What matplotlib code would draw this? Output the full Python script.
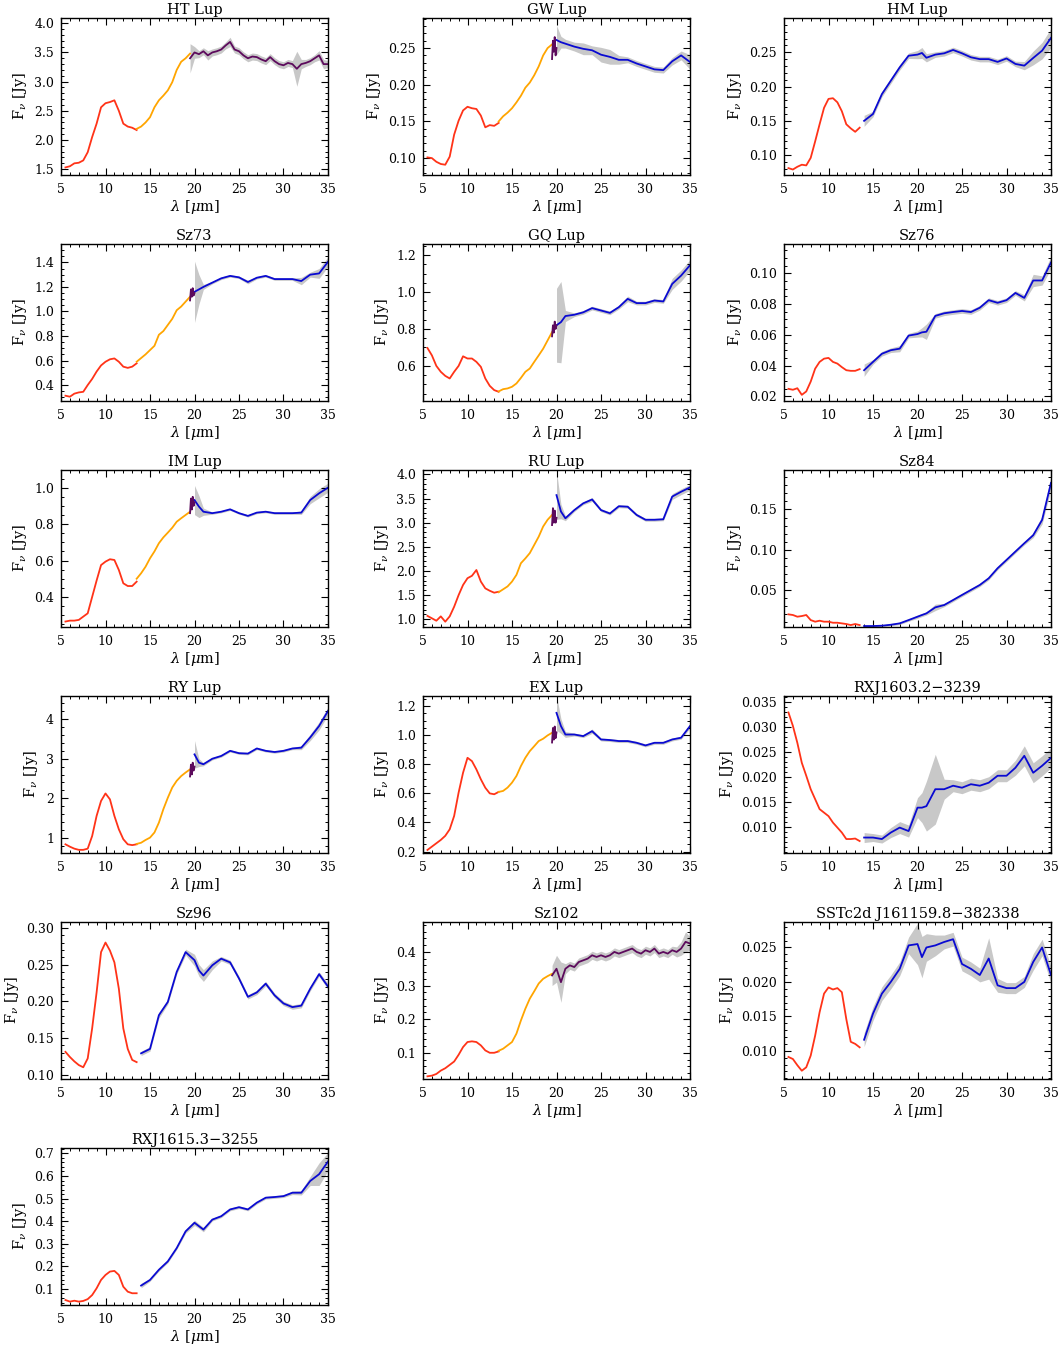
import matplotlib
matplotlib.use("Agg")
import matplotlib.pyplot as plt
from matplotlib.ticker import FixedLocator, FormatStrFormatter, MultipleLocator, AutoMinorLocator

plt.rcParams['font.family'] = ['DejaVu Serif']
plt.rcParams['mathtext.fontset'] = 'dejavuserif'

# wavelength grids (micron) of the spectral modules
wl_sl = [5.5, 6.0, 6.5, 7.0, 7.5, 8.0, 8.5, 9.0, 9.5, 10.0, 10.5, 11.0, 11.5, 12.0, 12.5, 13.0, 13.5]
wl_ll2 = [13.5, 14.0, 14.5, 15.0, 15.5, 16.0, 16.5, 17.0, 17.5, 18.0, 18.5, 19.0, 19.5]
wl_ll = [14, 15, 16, 17, 18, 19, 20, 20.5, 21, 22, 23, 24, 25, 26, 27, 28, 29, 30, 31, 32, 33, 34, 35]
wl_ll1 = [20, 20.5, 21, 22, 23, 24, 25, 26, 27, 28, 29, 30, 31, 32, 33, 34, 35]
wl_sh_short = [19.5, 19.6, 19.7, 19.8, 19.9, 20.0]
wl_sh = [19.5, 20, 20.5, 21, 21.5, 22, 22.5, 23, 23.5, 24, 24.5, 25, 25.5, 26, 26.5, 27, 27.5,
         28, 28.5, 29, 29.5, 30, 30.5, 31, 31.5, 32, 32.5, 33, 33.5, 34, 34.5, 35]

# HT Lup
htlup_red = [1.53, 1.55, 1.60, 1.61, 1.65, 1.79, 2.05, 2.28, 2.56, 2.63, 2.65, 2.68, 2.50, 2.28, 2.23, 2.21, 2.17]
htlup_orange = [2.19, 2.23, 2.30, 2.39, 2.56, 2.68, 2.76, 2.85, 2.99, 3.20, 3.34, 3.40, 3.48]
htlup_purple = [3.40, 3.50, 3.47, 3.52, 3.45, 3.50, 3.52, 3.55, 3.62, 3.68, 3.55, 3.52, 3.45, 3.40, 3.43, 3.42,
                3.38, 3.35, 3.42, 3.35, 3.30, 3.28, 3.32, 3.30, 3.22, 3.30, 3.32, 3.35, 3.40, 3.45, 3.30, 3.30]
htlup_err = [0.25, 0.10, 0.06, 0.06, 0.08, 0.06, 0.06, 0.06, 0.06, 0.08, 0.06, 0.06, 0.06, 0.06, 0.06, 0.06,
             0.06, 0.06, 0.06, 0.06, 0.06, 0.06, 0.06, 0.06, 0.30, 0.08, 0.06, 0.06, 0.06, 0.08, 0.08, 0.06]

# GW Lup
gwlup_red = [0.101, 0.100, 0.095, 0.092, 0.091, 0.102, 0.132, 0.151, 0.165, 0.170, 0.168, 0.167, 0.158, 0.142, 0.145, 0.144, 0.148]
gwlup_orange = [0.150, 0.157, 0.162, 0.168, 0.176, 0.185, 0.196, 0.203, 0.213, 0.225, 0.240, 0.250, 0.255]
gwlup_purple = [0.235, 0.260, 0.245, 0.265, 0.240, 0.250]
gwlup_blue = [0.261, 0.258, 0.256, 0.252, 0.249, 0.247, 0.241, 0.238, 0.234, 0.234, 0.229, 0.225, 0.221, 0.220, 0.232, 0.240, 0.231]
gwlup_err = [0.02, 0.008, 0.006, 0.006, 0.008, 0.006, 0.01, 0.01, 0.006, 0.004, 0.004, 0.004, 0.004, 0.004, 0.005, 0.006, 0.01]

# HM Lup
hmlup_red = [0.081, 0.079, 0.083, 0.086, 0.085, 0.096, 0.120, 0.145, 0.169, 0.182, 0.183, 0.177, 0.164, 0.145, 0.139, 0.134, 0.140]
hmlup_blue = [0.150, 0.160, 0.189, 0.2085, 0.228, 0.245, 0.2466, 0.249, 0.242, 0.2466, 0.2485, 0.2534, 0.2485,
              0.2427, 0.240, 0.240, 0.236, 0.241, 0.233, 0.2305, 0.2417, 0.2524, 0.271]
hmlup_err = [0.008, 0.004, 0.004, 0.004, 0.004, 0.004, 0.006, 0.008, 0.006, 0.004, 0.004, 0.004, 0.004, 0.004,
             0.004, 0.004, 0.004, 0.004, 0.004, 0.006, 0.01, 0.012, 0.014]

# Sz73
sz73_red = [0.313, 0.305, 0.33, 0.34, 0.345, 0.40, 0.45, 0.51, 0.56, 0.59, 0.61, 0.617, 0.59, 0.55, 0.54, 0.55, 0.577]
sz73_orange = [0.59, 0.62, 0.65, 0.685, 0.72, 0.81, 0.84, 0.89, 0.94, 1.01, 1.04, 1.08, 1.12]
sz73_purple = [1.09, 1.18, 1.12, 1.19, 1.13, 1.15]
sz73_blue = [1.16, 1.18, 1.20, 1.235, 1.27, 1.29, 1.278, 1.24, 1.275, 1.29, 1.264, 1.264, 1.264, 1.248, 1.30, 1.31, 1.405]
sz73_err = [0.25, 0.12, 0.02, 0.01, 0.01, 0.01, 0.01, 0.015, 0.01, 0.01, 0.01, 0.01, 0.01, 0.03, 0.02, 0.04, 0.04]

# GQ Lup
gqlup_red = [0.697, 0.657, 0.60, 0.568, 0.546, 0.532, 0.568, 0.60, 0.652, 0.64, 0.64, 0.622, 0.595, 0.532, 0.492, 0.469, 0.46]
gqlup_orange = [0.462, 0.474, 0.478, 0.487, 0.505, 0.535, 0.568, 0.586, 0.622, 0.657, 0.693, 0.738, 0.783]
gqlup_purple = [0.76, 0.82, 0.78, 0.84, 0.80, 0.82]
gqlup_blue = [0.82, 0.837, 0.87, 0.877, 0.89, 0.913, 0.90, 0.887, 0.918, 0.963, 0.94, 0.94, 0.954, 0.949, 1.044, 1.089, 1.145]
gqlup_err = [0.2, 0.22, 0.03, 0.01, 0.01, 0.01, 0.01, 0.01, 0.01, 0.015, 0.01, 0.01, 0.01, 0.01, 0.03, 0.03, 0.03]

# Sz76
sz76_red = [0.0249, 0.0243, 0.0253, 0.021, 0.0232, 0.0296, 0.038, 0.0424, 0.0445, 0.045, 0.0424, 0.0413, 0.039, 0.037, 0.0366, 0.0366, 0.0377]
sz76_blue = [0.037, 0.0424, 0.0477, 0.050, 0.051, 0.0595, 0.0605, 0.0616, 0.062, 0.0723, 0.074, 0.0748, 0.0755,
             0.0748, 0.0776, 0.0825, 0.0808, 0.0825, 0.0872, 0.084, 0.0953, 0.0953, 0.107]
sz76_err = [0.004, 0.0015, 0.0015, 0.0015, 0.002, 0.0015, 0.002, 0.003, 0.005, 0.0015, 0.0015, 0.0015, 0.0015,
            0.0015, 0.0015, 0.0015, 0.0015, 0.0015, 0.0015, 0.002, 0.004, 0.003, 0.004]

# IM Lup
imlup_red = [0.265, 0.27, 0.27, 0.274, 0.292, 0.31, 0.40, 0.49, 0.575, 0.594, 0.607, 0.603, 0.548, 0.475, 0.46, 0.46, 0.484]
imlup_orange = [0.50, 0.53, 0.566, 0.612, 0.65, 0.695, 0.727, 0.753, 0.78, 0.813, 0.832, 0.85, 0.868]
imlup_purple = [0.86, 0.94, 0.88, 0.95, 0.90, 0.92]
imlup_blue = [0.932, 0.896, 0.868, 0.86, 0.868, 0.881, 0.86, 0.845, 0.863, 0.868, 0.86, 0.86, 0.86, 0.863, 0.932, 0.969, 1.0]
imlup_err = [0.08, 0.06, 0.02, 0.006, 0.006, 0.006, 0.006, 0.006, 0.006, 0.006, 0.006, 0.006, 0.006, 0.01, 0.02, 0.025, 0.025]

# RU Lup
rulup_red = [1.07, 1.02, 0.97, 1.06, 0.95, 1.06, 1.26, 1.50, 1.71, 1.85, 1.90, 2.02, 1.78, 1.64, 1.59, 1.55, 1.57]
rulup_orange = [1.56, 1.62, 1.68, 1.78, 1.92, 2.16, 2.26, 2.37, 2.54, 2.71, 2.92, 3.06, 3.16]
rulup_purple = [2.95, 3.30, 3.00, 3.25, 3.00, 3.10]
rulup_blue = [3.57, 3.23, 3.09, 3.26, 3.40, 3.48, 3.26, 3.19, 3.34, 3.33, 3.16, 3.06, 3.06, 3.07, 3.54, 3.64, 3.73]
rulup_err = [0.5, 0.15, 0.05, 0.03, 0.03, 0.04, 0.03, 0.03, 0.03, 0.03, 0.03, 0.03, 0.03, 0.03, 0.06, 0.06, 0.06]

# Sz84
sz84_red = [0.0197, 0.0189, 0.0168, 0.0176, 0.0189, 0.0126, 0.0106, 0.0118, 0.0106, 0.0106, 0.0093, 0.0093, 0.0085, 0.0077, 0.0064, 0.0077, 0.0064]
sz84_blue = [0.0052, 0.0052, 0.0056, 0.0068, 0.0085, 0.0126, 0.0168, 0.0189, 0.0209, 0.0284, 0.0313, 0.0375, 0.0438,
             0.05, 0.0562, 0.0645, 0.077, 0.0873, 0.0977, 0.108, 0.118, 0.137, 0.183]
sz84_err = [0.001, 0.001, 0.001, 0.0015, 0.0015, 0.0015, 0.002, 0.002, 0.002, 0.004, 0.002, 0.002, 0.002, 0.002,
            0.002, 0.002, 0.002, 0.002, 0.002, 0.002, 0.003, 0.005, 0.008]

# RY Lup
rylup_red = [0.83, 0.77, 0.72, 0.69, 0.69, 0.72, 1.04, 1.55, 1.93, 2.12, 1.97, 1.55, 1.21, 0.96, 0.83, 0.81, 0.83]
rylup_orange = [0.84, 0.87, 0.94, 1.0, 1.13, 1.38, 1.72, 2.01, 2.27, 2.44, 2.56, 2.65, 2.73]
rylup_purple = [2.55, 2.85, 2.60, 2.90, 2.70, 2.80]
rylup_blue = [3.11, 2.90, 2.86, 3.0, 3.07, 3.20, 3.14, 3.13, 3.26, 3.20, 3.17, 3.20, 3.26, 3.28, 3.54, 3.83, 4.21]
rylup_err = [0.35, 0.1, 0.04, 0.03, 0.03, 0.03, 0.03, 0.03, 0.03, 0.03, 0.03, 0.03, 0.03, 0.05, 0.08, 0.1, 0.1]

# EX Lup
exlup_red = [0.211, 0.234, 0.257, 0.28, 0.308, 0.353, 0.445, 0.605, 0.742, 0.845, 0.822, 0.765, 0.697, 0.639, 0.60, 0.594, 0.61]
exlup_orange = [0.61, 0.617, 0.64, 0.674, 0.72, 0.788, 0.845, 0.891, 0.925, 0.96, 0.976, 0.999, 1.017]
exlup_purple = [0.95, 1.05, 0.97, 1.06, 0.98, 1.02]
exlup_blue = [1.154, 1.063, 1.005, 1.005, 0.994, 1.028, 0.971, 0.967, 0.96, 0.96, 0.948, 0.93, 0.948, 0.948, 0.971, 0.983, 1.063]
exlup_err = [0.12, 0.05, 0.02, 0.01, 0.01, 0.015, 0.01, 0.01, 0.01, 0.01, 0.01, 0.01, 0.01, 0.01, 0.01, 0.01, 0.015]

# RXJ1603.2-3239
rxj1603_red = [0.0329, 0.0302, 0.0268, 0.0228, 0.0202, 0.0175, 0.0155, 0.0135, 0.0128, 0.0121, 0.0108, 0.0098, 0.0088, 0.0075, 0.0075, 0.0076, 0.0071]
rxj1603_blue = [0.0078, 0.0078, 0.0075, 0.0088, 0.0098, 0.0091, 0.0138, 0.0138, 0.0141, 0.0175, 0.0175, 0.0182,
                0.0178, 0.0185, 0.0182, 0.0188, 0.0202, 0.0202, 0.0218, 0.0242, 0.0208, 0.0222, 0.0238]
rxj1603_err = [0.001, 0.0008, 0.0008, 0.001, 0.0012, 0.0012, 0.002, 0.003, 0.005, 0.007, 0.002, 0.0012, 0.0012,
               0.0012, 0.0012, 0.0012, 0.0012, 0.0012, 0.0015, 0.002, 0.002, 0.002, 0.002]

# Sz96
sz96_red = [0.131, 0.124, 0.118, 0.113, 0.110, 0.122, 0.163, 0.212, 0.267, 0.280, 0.269, 0.253, 0.217, 0.163, 0.135, 0.120, 0.117]
sz96_blue = [0.129, 0.135, 0.181, 0.199, 0.240, 0.267, 0.256, 0.242, 0.235, 0.249, 0.258, 0.253, 0.231, 0.206,
             0.212, 0.224, 0.208, 0.197, 0.192, 0.194, 0.217, 0.237, 0.220]
sz96_err = [0.003, 0.003, 0.004, 0.003, 0.003, 0.004, 0.008, 0.008, 0.008, 0.006, 0.003, 0.003, 0.003, 0.003,
            0.003, 0.003, 0.003, 0.003, 0.003, 0.003, 0.003, 0.003, 0.004]

# Sz102
sz102_red = [0.030, 0.032, 0.037, 0.047, 0.054, 0.064, 0.074, 0.094, 0.117, 0.132, 0.134, 0.132, 0.122, 0.107, 0.10, 0.10, 0.104]
sz102_orange = [0.106, 0.112, 0.122, 0.132, 0.157, 0.196, 0.231, 0.261, 0.283, 0.306, 0.32, 0.328, 0.335]
sz102_purple = [0.33, 0.35, 0.31, 0.35, 0.36, 0.355, 0.37, 0.375, 0.38, 0.39, 0.385, 0.39, 0.385, 0.39, 0.40, 0.395,
                0.40, 0.405, 0.41, 0.40, 0.395, 0.405, 0.40, 0.41, 0.395, 0.40, 0.395, 0.405, 0.40, 0.41, 0.43, 0.425]
sz102_err = [0.03, 0.04, 0.06, 0.015, 0.012, 0.012, 0.012, 0.012, 0.012, 0.012, 0.012, 0.012, 0.012, 0.012, 0.012, 0.012,
             0.012, 0.012, 0.012, 0.012, 0.012, 0.012, 0.012, 0.012, 0.012, 0.012, 0.012, 0.012, 0.015, 0.02, 0.03, 0.02]

# SSTc2d J161159.8-382338
sstc2d_red = [0.0091, 0.0088, 0.0079, 0.0071, 0.0076, 0.0093, 0.0122, 0.0156, 0.0183, 0.0192, 0.0189, 0.0191, 0.0185, 0.0146, 0.0113, 0.011, 0.0105]
sstc2d_blue = [0.0116, 0.0154, 0.0183, 0.020, 0.0219, 0.0253, 0.0255, 0.0236, 0.025, 0.0253, 0.0258, 0.0262, 0.0226,
               0.0219, 0.0210, 0.0234, 0.0195, 0.0191, 0.0191, 0.020, 0.0229, 0.025, 0.0210]
sstc2d_err = [0.001, 0.001, 0.001, 0.001, 0.001, 0.0012, 0.003, 0.003, 0.002, 0.0015, 0.001, 0.001, 0.001, 0.001,
              0.001, 0.003, 0.001, 0.0008, 0.0008, 0.0008, 0.0012, 0.0012, 0.0012]

# RXJ1615.3-3255
rxj1615_red = [0.051, 0.044, 0.048, 0.044, 0.047, 0.055, 0.073, 0.103, 0.14, 0.162, 0.177, 0.18, 0.162, 0.11, 0.088, 0.081, 0.081]
rxj1615_blue = [0.115, 0.14, 0.185, 0.222, 0.281, 0.355, 0.393, 0.378, 0.363, 0.407, 0.422, 0.452, 0.462, 0.452,
                0.482, 0.504, 0.507, 0.511, 0.526, 0.526, 0.578, 0.608, 0.664]
rxj1615_err = [0.01, 0.006, 0.006, 0.006, 0.006, 0.008, 0.012, 0.01, 0.01, 0.006, 0.006, 0.006, 0.006, 0.006,
               0.006, 0.006, 0.006, 0.006, 0.008, 0.01, 0.02, 0.05, 0.04]

c_red = '#ff3318'
c_orange = '#ffa500'
c_purple = '#5c0a5c'
c_blue = '#0a0ad2'
c_gray = '#c8c8c8'

# name, red, orange, purple, blue, err, ylim, yticks, label format
panels = [
    ('HT Lup', htlup_red, htlup_orange, htlup_purple, None, htlup_err, (1.40, 4.09), [1.5, 2.0, 2.5, 3.0, 3.5, 4.0], '%.1f'),
    ('GW Lup', gwlup_red, gwlup_orange, gwlup_purple, gwlup_blue, gwlup_err, (0.077, 0.291), [0.10, 0.15, 0.20, 0.25], '%.2f'),
    ('HM Lup', hmlup_red, None, None, hmlup_blue, hmlup_err, (0.071, 0.30), [0.10, 0.15, 0.20, 0.25], '%.2f'),
    ('Sz73', sz73_red, sz73_orange, sz73_purple, sz73_blue, sz73_err, (0.27, 1.55), [0.4, 0.6, 0.8, 1.0, 1.2, 1.4], '%.1f'),
    ('GQ Lup', gqlup_red, gqlup_orange, gqlup_purple, gqlup_blue, gqlup_err, (0.41, 1.26), [0.6, 0.8, 1.0, 1.2], '%.1f'),
    ('Sz76', sz76_red, None, None, sz76_blue, sz76_err, (0.017, 0.119), [0.02, 0.04, 0.06, 0.08, 0.10], '%.2f'),
    ('IM Lup', imlup_red, imlup_orange, imlup_purple, imlup_blue, imlup_err, (0.235, 1.097), [0.4, 0.6, 0.8, 1.0], '%.1f'),
    ('RU Lup', rulup_red, rulup_orange, rulup_purple, rulup_blue, rulup_err, (0.84, 4.09), [1.0, 1.5, 2.0, 2.5, 3.0, 3.5, 4.0], '%.1f'),
    ('Sz84', sz84_red, None, None, sz84_blue, sz84_err, (0.004, 0.199), [0.05, 0.10, 0.15], '%.2f'),
    ('RY Lup', rylup_red, rylup_orange, rylup_purple, rylup_blue, rylup_err, (0.61, 4.59), [1, 2, 3, 4], '%d'),
    ('EX Lup', exlup_red, exlup_orange, exlup_purple, exlup_blue, exlup_err, (0.19, 1.27), [0.2, 0.4, 0.6, 0.8, 1.0, 1.2], '%.1f'),
    ('RXJ1603.2\u22123239', rxj1603_red, None, None, rxj1603_blue, rxj1603_err, (0.0047, 0.0362),
     [0.010, 0.015, 0.020, 0.025, 0.030, 0.035], '%.3f'),
    ('Sz96', sz96_red, None, None, sz96_blue, sz96_err, (0.094, 0.308), [0.10, 0.15, 0.20, 0.25, 0.30], '%.2f'),
    ('Sz102', sz102_red, sz102_orange, sz102_purple, None, sz102_err, (0.022, 0.489), [0.1, 0.2, 0.3, 0.4], '%.1f'),
    ('SSTc2d J161159.8\u2212382338', sstc2d_red, None, None, sstc2d_blue, sstc2d_err, (0.0059, 0.0287),
     [0.010, 0.015, 0.020, 0.025], '%.3f'),
    ('RXJ1615.3\u22123255', rxj1615_red, None, None, rxj1615_blue, rxj1615_err, (0.029, 0.724),
     [0.1, 0.2, 0.3, 0.4, 0.5, 0.6, 0.7], '%.1f'),
]

W, H = 1061, 1349
fig = plt.figure(figsize=(W / 100, H / 100), dpi=100)
col_left = [61, 423, 784]
row_top = [18, 244, 470, 696, 922, 1148]
aw, ah = 267, 157

for i, (name, red, orange, purple, blue, err, ylim, yticks, fmt) in enumerate(panels):
    r, c = divmod(i, 3)
    ax = fig.add_axes([col_left[c] / W, 1 - (row_top[r] + ah) / H, aw / W, ah / H])

    # uncertainty band
    if blue is not None:
        xb = wl_ll if len(blue) == len(wl_ll) else wl_ll1
        lo = [v - e for v, e in zip(blue, err)]
        hi = [v + e for v, e in zip(blue, err)]
        ax.fill_between(xb, lo, hi, color=c_gray, lw=0)
    elif purple is not None:
        lo = [v - e for v, e in zip(purple, err)]
        hi = [v + e for v, e in zip(purple, err)]
        ax.fill_between(wl_sh, lo, hi, color=c_gray, lw=0)

    ax.plot(wl_sl, red, color=c_red, lw=1.3)
    if orange is not None:
        ax.plot(wl_ll2, orange, color=c_orange, lw=1.3)
    if blue is not None:
        ax.plot(xb, blue, color=c_blue, lw=1.3)
    if purple is not None:
        xp = wl_sh_short if len(purple) == len(wl_sh_short) else wl_sh
        ax.plot(xp, purple, color=c_purple, lw=1.3)

    ax.set_xlim(5, 35)
    ax.set_ylim(*ylim)
    ax.xaxis.set_major_locator(MultipleLocator(5))
    ax.xaxis.set_minor_locator(MultipleLocator(1))
    ax.yaxis.set_major_locator(FixedLocator(yticks))
    ax.yaxis.set_major_formatter(FormatStrFormatter(fmt))
    ax.yaxis.set_minor_locator(AutoMinorLocator())
    ax.tick_params(which='both', direction='in', top=True, right=True, labelsize=9)
    ax.tick_params(which='major', length=5, width=0.8)
    ax.tick_params(which='minor', length=2.5, width=0.7)
    ax.tick_params(axis='x', pad=6)
    ax.tick_params(axis='y', pad=5)
    for sp in ax.spines.values():
        sp.set_linewidth(1.0)

    ax.set_title(name, fontsize=10.5, pad=3)
    ax.set_xlabel(r'$\lambda$ [$\mu$m]', fontsize=10.5, labelpad=1)
    ax.set_ylabel(r'F$_\nu$ [Jy]', fontsize=10.5, labelpad=4)

fig.savefig('out.png', dpi=100)
